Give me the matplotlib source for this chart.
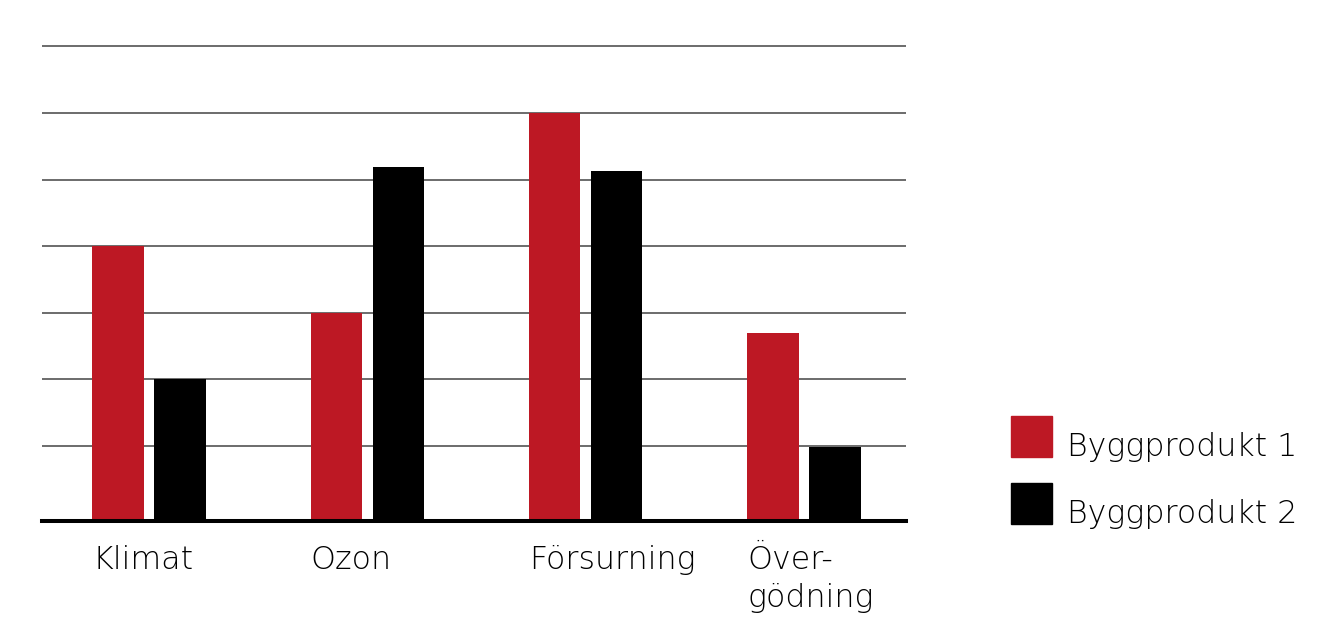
import matplotlib
matplotlib.use("Agg")
import matplotlib.pyplot as plt
from matplotlib.patches import Rectangle
from matplotlib.transforms import blended_transform_factory

categories = ["Klimat", "Ozon", "Försurning", "Över-\ngödning"]
series_names = ["Byggprodukt 1", "Byggprodukt 2"]
produkt1 = [4.0, 3.0, 6.0, 2.7]
produkt2 = [2.0, 5.19, 5.13, 0.98]
grid_values = [1, 2, 3, 4, 5, 6, 7]

RED = "#BD1824"
BLACK = "#000000"
BASE = -0.125
W = 0.236
OFF = 0.142
FS = 22.8
FW = 1336
FH = 644

plt.rcParams['font.family'] = ['DejaVu Sans']

fig = plt.figure(figsize=(13.36, 6.44), dpi=100)
ax = fig.add_axes([42/FW, 123/FH, 864/FW, (521-33)/FH])

xs = list(range(len(categories)))
ax.bar([x - OFF for x in xs], [v - BASE for v in produkt1], bottom=BASE, width=W,
       color=RED, zorder=3)
ax.bar([x + OFF for x in xs], [v - BASE for v in produkt2], bottom=BASE, width=W,
       color=BLACK, zorder=3)

ax.set_xlim(-0.49, 3.467)
ax.set_ylim(BASE, 7.2)
ax.set_yticks(grid_values)
ax.yaxis.grid(True, color="#444444", linewidth=1.1, zorder=0)
ax.set_axisbelow(True)
ax.tick_params(left=False, labelleft=False, bottom=False, labelbottom=False)
for s in ["top", "left", "right"]:
    ax.spines[s].set_visible(False)
ax.spines["bottom"].set_linewidth(2.9)
ax.spines["bottom"].set_color("black")
ax.spines["bottom"].set_zorder(5)

trans = blended_transform_factory(ax.transData, fig.transFigure)
for x, lab in zip(xs, categories):
    for i, line in enumerate(lab.split("\n")):
        ax.text(x - OFF - W/2, (FH - 569 - 38*i)/FH, line, transform=trans,
                ha="left", va="baseline", fontsize=FS, fontweight="light", color="#000000")

# legend
sq = 41
for i, (name, col) in enumerate(zip(series_names, [RED, BLACK])):
    top = 416 + 67*i
    fig.add_artist(Rectangle((1011/FW, (FH - top - sq)/FH), sq/FW, sq/FH,
                             transform=fig.transFigure, color=col))
    fig.text(1067/FW, (FH - top - 40)/FH, name, ha="left", va="baseline",
             fontsize=FS, fontweight="light", color="#000000")

fig.savefig("out.png", dpi=100, facecolor="white")
